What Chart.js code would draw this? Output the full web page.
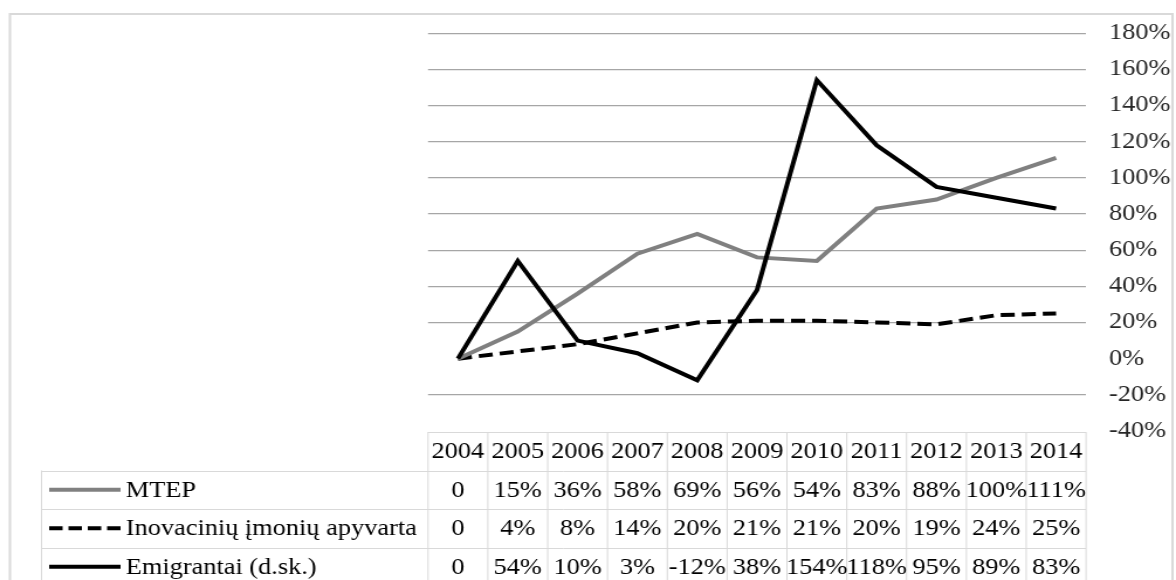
<!DOCTYPE html>
<html>
<head>
<meta charset="utf-8">
<script src="https://cdn.jsdelivr.net/npm/chart.js@4.4.1/dist/chart.umd.min.js"></script>
<style>
  html, body { margin: 0; padding: 0; background: #fff; overflow: hidden; }
  #wrap { position: absolute; left: 0; top: 0; width: 1005px; height: 580px;
          transform: scaleX(1.170149); transform-origin: 0 0; }
  canvas { display: block; }
  .probe { font-family: "Liberation Serif"; position: absolute; left: -9999px; font-size: 22px; }
</style>
</head>
<body>
<span class="probe">2004 MTEP</span>
<div id="wrap"><canvas id="c" width="1005" height="580"></canvas></div>
<script>
// ---- data ----
const years = ['2004','2005','2006','2007','2008','2009','2010','2011','2012','2013','2014'];
const seriesNames = ['MTEP', 'Inovacinių įmonių apyvarta', 'Emigrantai (d.sk.)'];
const mtep = [0, 15, 36, 58, 69, 56, 54, 83, 88, 100, 111];
const inovacines = [0, 4, 8, 14, 20, 21, 21, 20, 19, 24, 25];
const emigrantai = [0, 54, 10, 3, -12, 38, 154, 118, 95, 89, 83];
const yMin = -40, yMax = 180, yStep = 20;

const FONT = '"Liberation Serif", "Times New Roman", Times, serif';
const FSIZE = 22.5;
const seriesValues = [mtep, inovacines, emigrantai];
const seriesStyle = [
  { color: '#808080', dash: [] },
  { color: '#000000', dash: [12, 6] },
  { color: '#000000', dash: [] }
];

function fmt(v) { return v === 0 ? '0' : v + '%'; }

const tablePlugin = {
  id: 'dataTable',
  afterDraw(chart) {
    const ctx = chart.ctx;
    const area = chart.chartArea;
    const xs = chart.scales.x;
    const n = years.length;
    const colW = (area.right - area.left) / n;
    const top = area.bottom + 1;
    const rowH = 38.5;
    const legendLeft = 35;
    const border = '#d9d9d9';
    ctx.save();
    ctx.strokeStyle = border;
    ctx.lineWidth = 1;
    ctx.beginPath();
    ctx.moveTo(area.left, top + 0.5); ctx.lineTo(area.right, top + 0.5);
    for (let r = 1; r <= 4; r++) {
      const y = Math.round(top + r * rowH) + 0.5;
      ctx.moveTo(legendLeft, y); ctx.lineTo(area.right, y);
    }
    for (let i = 0; i <= n; i++) {
      const x = (i < n ? xs.getPixelForValue(i) - colW / 2 : xs.getPixelForValue(n - 1) + colW / 2);
      ctx.moveTo(x, top); ctx.lineTo(x, 600);
    }
    ctx.moveTo(legendLeft + 0.5, top + rowH); ctx.lineTo(legendLeft + 0.5, 600);
    ctx.stroke();

    ctx.fillStyle = '#000';
    ctx.font = FSIZE + 'px ' + FONT;
    ctx.textBaseline = 'middle';
    ctx.textAlign = 'center';
    for (let i = 0; i < n; i++) {
      const cx = xs.getPixelForValue(i);
      ctx.fillText(years[i], cx, top + rowH / 2 + 1);
      for (let s = 0; s < seriesValues.length; s++) {
        ctx.fillText(fmt(seriesValues[s][i]), cx, top + rowH * (s + 1.5) + 1);
      }
    }
    ctx.textAlign = 'left';
    for (let s = 0; s < seriesNames.length; s++) {
      const cy = top + rowH * (s + 1.5);
      ctx.save();
      ctx.strokeStyle = seriesStyle[s].color;
      ctx.lineWidth = 4;
      ctx.setLineDash(s === 1 ? [11.5, 5] : []);
      ctx.beginPath();
      ctx.moveTo(42, cy); ctx.lineTo(103, cy);
      ctx.stroke();
      ctx.restore();
      ctx.fillText(seriesNames[s], 107.5, cy + 1);
    }
    ctx.strokeStyle = border;
    ctx.lineWidth = 2;
    ctx.beginPath();
    ctx.moveTo(8.5, 700); ctx.lineTo(8.5, 14); ctx.lineTo(1002, 14); ctx.lineTo(1002, 700);
    ctx.stroke();
    ctx.restore();
  }
};

const bgPlugin = {
  id: 'bg',
  beforeDraw(chart) {
    const ctx = chart.ctx;
    ctx.save();
    ctx.fillStyle = '#fff';
    ctx.fillRect(0, 0, chart.width, chart.height);
    ctx.restore();
  }
};

function build() {
  new Chart(document.getElementById('c'), {
    type: 'line',
    data: {
      labels: years,
      datasets: seriesNames.map((name, s) => ({
        label: name,
        data: seriesValues[s],
        borderColor: seriesStyle[s].color,
        borderDash: seriesStyle[s].dash,
        borderWidth: 4,
        borderCapStyle: 'butt',
        borderJoinStyle: 'miter',
        pointRadius: 0,
        tension: 0,
        fill: false,
        order: s === 2 ? 0 : (s === 0 ? 1 : 2)
      }))
    },
    options: {
      responsive: false,
      animation: false,
      layout: { padding: { left: 365.8, right: 0, top: 27.7, bottom: 149 } },
      plugins: { legend: { display: false }, tooltip: { enabled: false } },
      scales: {
        x: { display: false, offset: true },
        y: {
          position: 'right',
          min: yMin, max: yMax,
          border: { display: false },
          grid: {
            drawTicks: false,
            tickLength: 0,
            lineWidth: 1.2,
            color: (c) => (c.tick && (c.tick.value === 0 || c.tick.value === yMin)) ? 'rgba(0,0,0,0)' : '#a6a6a6'
          },
          ticks: {
            stepSize: yStep,
            padding: 19.6,
            color: '#262626',
            font: { family: FONT, size: FSIZE },
            callback: (v) => v + '%'
          },
          afterFit(scale) { scale.width = 76.9; }
        }
      }
    },
    plugins: [bgPlugin, tablePlugin]
  });
}

Promise.all([
  document.fonts.load('22px "Liberation Serif"', '2004 MTEP įų%'),
]).catch(() => {}).then(() => document.fonts.ready).then(build, build);
</script>
</body>
</html>
